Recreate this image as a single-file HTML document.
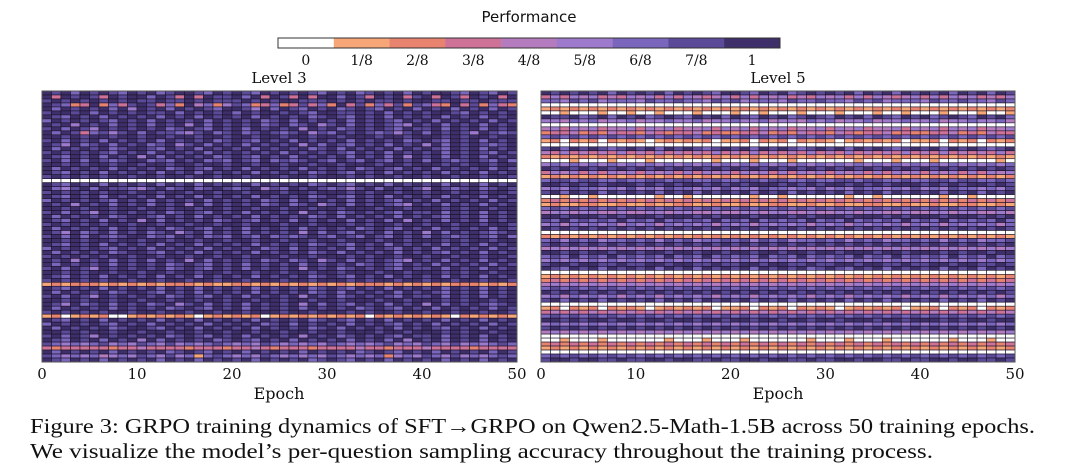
<!DOCTYPE html>
<html><head><meta charset="utf-8"><style>
html,body{margin:0;padding:0;background:#fff;}
svg{display:block;}
text{fill:#111;}
.sf{font-family:"DejaVu Serif","Liberation Serif",serif;}
</style></head><body>
<svg id="fig" width="1080" height="468" viewBox="0 0 1080 468" xmlns="http://www.w3.org/2000/svg">
<text x="529" y="22" font-size="15" text-anchor="middle" style="font-family:'DejaVu Sans','Liberation Sans',sans-serif">Performance</text>
<g id="cbar"></g>
<text class="sf" x="279" y="83" font-size="15" text-anchor="middle">Level 3</text>
<text class="sf" x="778" y="83" font-size="15" text-anchor="middle">Level 5</text>
<g id="p3"></g>
<g id="p5"></g>
<text class="sf" x="279" y="399" font-size="16" text-anchor="middle">Epoch</text>
<text class="sf" x="778" y="399" font-size="16" text-anchor="middle">Epoch</text>
<text x="30" y="433" font-size="21" textLength="1005" lengthAdjust="spacingAndGlyphs" style="font-family:'Liberation Serif',serif">Figure 3: GRPO training dynamics of SFT→GRPO on Qwen2.5-Math-1.5B across 50 training epochs.</text>
<text x="30" y="458" font-size="21" textLength="903" lengthAdjust="spacingAndGlyphs" style="font-family:'Liberation Serif',serif">We visualize the model’s per-question sampling accuracy throughout the training process.</text>
</svg>
<script>
const colorLevels = ['#ffffff','#f6a677','#e8836f','#cf7298','#b57bbf','#9d7acc','#7a66bd','#5a4a98','#3e2f6a'];
const cbarLabels = ['0','1/8','2/8','3/8','4/8','5/8','6/8','7/8','1'];
const xTicks = [0,10,20,30,40,50];
const epochs = 50;
const level3 = [
"87868 78768 78678 87687 87687 87876 87867 87868 78876 87687",
"83878 73878 86873 83877 86838 73838 86873 87837 83873 87838",
"78787 87878 77877 87877 78787 88777 87878 77878 87787 78777",
"87623 82637 87362 84625 76236 23736 28372 63727 63283 72632",
"86878 78685 87868 78768 87586 87687 86787 68786 87868 78687",
"78878 68787 87786 87878 68788 78768 87787 86878 78876 87878",
"87687 86878 78687 86878 78687 87867 87687 86878 78687 86878",
"68787 87687 86878 78687 87867 86878 78687 87687 86878 78687",
"87858 78687 86878 58687 87867 86785 78687 87658 78687 86878",
"78687 58787 87867 87687 86878 78587 86787 87687 78687 86878",
"86873 67578 68776 57867 86787 67857 68787 67578 68787 58767",
"88787 88788 78878 87887 88788 78878 87888 78878 88787 88788",
"78687 86878 78687 87867 87687 86878 78687 87867 87687 86878",
"87586 78687 86785 78687 86878 78586 87687 86878 58687 87678",
"86878 78678 87687 86878 78687 87867 86878 78687 87687 86878",
"78787 87687 86878 78687 87878 68787 87687 86878 78687 87687",
"87687 86878 58687 87867 87687 86878 78687 86858 78687 86878",
"78686 87678 86768 78676 87686 76787 68768 76878 68767 87686",
"88787 88788 78878 87887 88788 78878 87888 78878 88787 88788",
"86878 78687 87867 87687 86878 78687 87867 87687 86878 78687",
"87687 86878 78687 86878 78687 87867 87687 86878 78687 86878",
"78787 87887 88788 78878 87888 78878 88787 88788 78878 87887",
"00000 00000 00000 00000 00000 00000 00000 00000 00000 00000",
"87687 86878 78687 86878 78687 87867 87687 86878 78687 86878",
"86578 68776 57867 86787 67857 68787 67578 68787 58767 86787",
"78787 87887 88788 78878 87888 78878 88787 88788 78878 87887",
"87687 86878 78687 86878 78687 87867 87687 86878 78687 86878",
"68787 87687 86878 78687 87867 86878 78687 87687 86878 78687",
"87858 78687 86878 58687 87867 86785 78687 87658 78687 86878",
"88787 88788 78878 87887 88788 78878 87888 78878 88787 88788",
"78687 58787 87867 87687 86878 78587 86787 87687 78687 86878",
"86878 78678 87687 86878 78687 87867 86878 78687 87687 86878",
"87687 86878 58687 87867 87687 86878 78687 86858 78687 86878",
"78787 87887 88788 78878 87888 78878 88787 88788 78878 87887",
"86878 78687 87867 87687 86878 78687 87867 87687 86878 78687",
"87586 78687 86785 78687 86878 78586 87687 86878 58687 87678",
"78686 87678 86768 78676 87686 76787 68768 76878 68767 87686",
"88787 88788 78878 87887 88788 78878 87888 78878 88787 88788",
"87687 86878 78687 86878 78687 87867 87687 86878 78687 86878",
"68787 87687 86878 78687 87867 86878 78687 87687 86878 78687",
"86878 78678 87687 86878 78687 87867 86878 78687 87687 86878",
"78787 87887 88788 78878 87888 78878 88787 88788 78878 87887",
"87858 78687 86878 58687 87867 86785 78687 87658 78687 86878",
"86878 78687 87867 87687 86878 78687 87867 87687 86878 78687",
"78687 58787 87867 87687 86878 78587 86787 87687 78687 86878",
"88787 88788 78878 87887 88788 78878 87888 78878 88787 88788",
"87687 86878 78687 86878 78687 87867 87687 86878 78687 86878",
"78787 87887 88788 78878 87888 78878 88787 88788 78878 87887",
"12122 21212 12122 21211 22121 21212 12122 21212 12122 21212",
"87687 86878 78687 86878 78687 87867 87687 86878 78687 86878",
"86878 78678 87687 86878 78687 87867 86878 78687 87687 86878",
"78687 58787 87867 87687 86878 78587 86787 87687 78687 86878",
"88787 88788 78878 87887 88788 78878 87888 78878 88787 88788",
"87586 78687 86785 78687 86878 78586 87687 86878 58687 87678",
"86878 78687 87867 87687 86878 78687 87867 87687 86878 78687",
"78787 87887 88788 78878 87888 78878 88787 88788 78878 87887",
"12012 12001 21212 10121 21201 21212 12120 21212 12102 12121",
"87687 86878 78687 86878 78687 87867 87687 86878 78687 86878",
"68787 87687 86878 78687 87867 86878 78687 87687 86878 78687",
"86878 78678 87687 86878 78687 87867 86878 78687 87687 86878",
"88787 88788 78878 87887 88788 78878 87888 78878 88787 88788",
"78687 58787 87867 87687 86878 78587 86787 87687 78687 86878",
"87687 86878 58687 87867 87687 86878 78687 86858 78687 86878",
"76565 67565 76575 65676 56576 56565 76565 67565 76575 65676",
"32333 33233 43333 23332 33432 33323 33343 32333 43333 23333",
"86878 78687 87867 87687 86878 78687 87867 87687 86878 78687",
"76565 64565 76575 61676 56576 56565 76565 62565 76575 65676",
"87687 86878 78687 86878 78687 87867 87687 86878 78687 86878"
];
const level5 = [
"87878 78687 87868 78768 87687 86787 87868 78687 87868 78687",
"35354 53435 45353 54345 35354 53435 45353 54345 35354 53435",
"66576 75666 57667 66576 75666 57667 66576 75666 57667 66576",
"00000 00000 00000 00000 00000 00000 00000 00000 00000 00000",
"12121 21212 12121 21212 12121 21212 12121 21212 12121 21212",
"00100 01001 00100 01000 10010 00100 01000 10010 00100 01001",
"87786 78687 86787 68786 87687 86787 68786 87687 86787 68786",
"55465 64556 45565 56455 65564 55465 64556 45565 56455 65564",
"00000 00000 00000 00000 00000 00000 00000 00000 00000 00000",
"45354 53445 35453 44535 45354 53445 35453 44535 45354 53445",
"23342 32433 24323 34232 23342 32433 24323 34232 23342 32433",
"67676 76767 67676 76767 67676 76767 67676 76767 67676 76767",
"12021 20212 10121 21201 12021 20212 10121 21201 12021 20212",
"00000 00000 00000 00000 00000 00000 00000 00000 00000 00000",
"78687 87678 78687 87678 78687 87678 78687 87678 78687 87678",
"43534 34353 43534 34353 43534 34353 43534 34353 43534 34353",
"21212 12121 21212 12121 21212 12121 21212 12121 21212 12121",
"00010 00100 01000 00010 00100 01000 00010 00100 01000 00010",
"56565 65656 56565 65656 56565 65656 56565 65656 56565 65656",
"87878 78787 87878 78787 87878 78787 87878 78787 87878 78787",
"35453 53545 35453 53545 35453 53545 35453 53545 35453 53545",
"12121 21212 12121 21212 12121 21212 12121 21212 12121 21212",
"67767 76676 67767 76676 67767 76676 67767 76676 67767 76676",
"88787 87888 78787 88787 87888 78787 88787 87888 78787 88787",
"56576 65657 56576 65657 56576 65657 56576 65657 56576 65657",
"78687 86878 78687 86878 78687 86878 78687 86878 78687 86878",
"00100 10000 00100 10000 00100 10000 00100 10000 00100 10000",
"23232 32323 23232 32323 23232 32323 23232 32323 23232 32323",
"12112 21121 12112 21121 12112 21121 12112 21121 12112 21121",
"67676 76767 67676 76767 67676 76767 67676 76767 67676 76767",
"45545 54454 45545 54454 45545 54454 45545 54454 45545 54454",
"88788 87878 88788 87878 88788 87878 88788 87878 88788 87878",
"76867 67686 76867 67686 76867 67686 76867 67686 76867 67686",
"56465 65646 56465 65646 56465 65646 56465 65646 56465 65646",
"87878 78787 87878 78787 87878 78787 87878 78787 87878 78787",
"00000 00000 00000 00000 00000 00000 00000 00000 00000 00000",
"21212 12121 21212 12121 21212 12121 21212 12121 21212 12121",
"67576 75667 67576 75667 67576 75667 67576 75667 67576 75667",
"78787 87878 78787 87878 78787 87878 78787 87878 78787 87878",
"45454 54545 45454 54545 45454 54545 45454 54545 45454 54545",
"88787 88788 78878 87887 88788 78878 87888 78878 88787 88788",
"67686 76867 67686 76867 67686 76867 67686 76867 67686 76867",
"56565 65656 56565 65656 56565 65656 56565 65656 56565 65656",
"78878 87787 78878 87787 78878 87787 78878 87787 78878 87787",
"87687 86878 78687 86878 78687 87867 87687 86878 78687 86878",
"00000 00000 00000 00000 00000 00000 00000 00000 00000 00000",
"12121 21212 12121 21212 12121 21212 12121 21212 12121 21212",
"23232 32323 23232 32323 23232 32323 23232 32323 23232 32323",
"45454 54545 45454 54545 45454 54545 45454 54545 45454 54545",
"67676 76767 67676 76767 67676 76767 67676 76767 67676 76767",
"87878 78787 87878 78787 87878 78787 87878 78787 87878 78787",
"56465 65646 56465 65646 56465 65646 56465 65646 56465 65646",
"78687 86878 78687 86878 78687 86878 78687 86878 78687 86878",
"00000 00000 00000 00000 00000 00000 00000 00000 00000 00000",
"12021 20212 10121 21201 12021 20212 10121 21201 12021 20212",
"34343 43434 34343 43434 34343 43434 34343 43434 34343 43434",
"67676 76767 67676 76767 67676 76767 67676 76767 67676 76767",
"88787 88788 78878 87887 88788 78878 87888 78878 88787 88788",
"56565 65656 56565 65656 56565 65656 56565 65656 56565 65656",
"78787 87878 78787 87878 78787 87878 78787 87878 78787 87878",
"45454 54545 45454 54545 45454 54545 45454 54545 45454 54545",
"00000 00000 00000 00000 00000 00000 00000 00000 00000 00000",
"00100 01000 00010 00100 01000 00010 00100 01000 00010 00100",
"23232 32323 23232 32323 23232 32323 23232 32323 23232 32323",
"12121 21212 12121 21212 12121 21212 12121 21212 12121 21212",
"00000 00000 00000 00000 00000 00000 00000 00000 00000 00000",
"67676 76767 67676 76767 67676 76767 67676 76767 67676 76767",
"78878 87787 78878 87787 78878 87787 78878 87787 78878 87787"
];
const NS='http://www.w3.org/2000/svg';
function mk(tag,attrs,parent){const e=document.createElementNS(NS,tag);for(const k in attrs)e.setAttribute(k,attrs[k]);parent.appendChild(e);return e;}
const cb=document.getElementById('cbar');
const segW=502/colorLevels.length;
const cbX=(i)=>278+i*segW;
colorLevels.forEach((c,i)=>{
  const r=mk('rect',{x:cbX(i),y:38,width:segW+0.3,height:10,fill:c},cb);
  
  
  const t=mk('text',{x:cbX(i)+segW/2,y:65,'font-size':14,'text-anchor':'middle','class':'sf'},cb);
  t.textContent=cbarLabels[i];
  
  
});
mk('rect',{x:278,y:38,width:502,height:10,fill:'none',stroke:'#333','stroke-width':1},cb);
function drawPanel(id,data,x0,x1){
  const g=document.getElementById(id);
  const y0=91,y1=362;
  const rows=data.map(s=>s.replace(/ /g,''));
  const xs=(e)=>x0+(x1-x0)*e/epochs;
  const ys=(r)=>y0+(y1-y0)*r/rows.length;
  rows.forEach((s,r)=>{
    for(let e=0;e<epochs;e++){
      const v=+s[e];
      const rc=mk('rect',{x:xs(e),y:ys(r),width:xs(e+1)-xs(e),height:ys(r+1)-ys(r),fill:colorLevels[v],stroke:'#1a1428','stroke-width':0.6},g);
      
      
    }
  });
  mk('rect',{x:x0,y:y0,width:x1-x0,height:y1-y0,fill:'none',stroke:'#555','stroke-width':1},g);
  xTicks.forEach(t=>{
    const tx=mk('text',{x:xs(t),y:379,'font-size':15,'text-anchor':'middle','class':'sf'},g);
    tx.textContent=t;
    
    
  });
}
drawPanel('p3',level3,42,517);
drawPanel('p5',level5,541,1015);
</script>
</body></html>
